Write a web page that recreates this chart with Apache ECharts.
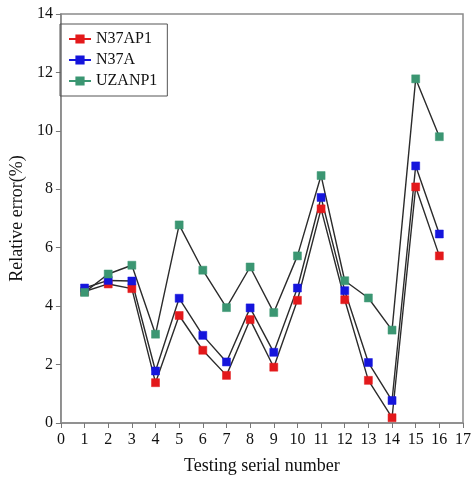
<!DOCTYPE html>
<html>
<head>
<meta charset="utf-8">
<script src="https://cdn.jsdelivr.net/npm/echarts@6/dist/echarts.min.js"></script>
<style>
  html, body { margin: 0; padding: 0; background: #fff; }
  #main { width: 474px; height: 480px; }
</style>
</head>
<body>
<div id="main"></div>
<script>
 var myChart = echarts.init(document.getElementById('main'));

 // data
 var serial = [1, 2, 3, 4, 5, 6, 7, 8, 9, 10, 11, 12, 13, 14, 15, 16];
 var n37ap1 = [4.50, 4.76, 4.60, 1.38, 3.68, 2.49, 1.63, 3.54, 1.91, 4.20, 7.33, 4.22, 1.46, 0.18, 8.08, 5.72];
 var n37a = [4.62, 4.88, 4.86, 1.78, 4.27, 3.00, 2.09, 3.94, 2.42, 4.62, 7.72, 4.53, 2.07, 0.77, 8.80, 6.47];
 var uzanp1 = [4.47, 5.10, 5.40, 3.04, 6.78, 5.23, 3.95, 5.34, 3.78, 5.72, 8.47, 4.87, 4.28, 3.18, 11.78, 9.80];
 var names = ['N37AP1', 'N37A', 'UZANP1'];
 var colors = ['#e3191b', '#1515dc', '#3b9672'];

 var font = 'Liberation Serif, Times New Roman, serif';

 function pairs(vals) {
   var out = [];
   for (var i = 0; i < serial.length; i++) {
     out.push([serial[i], vals[i]]);
   }
   return out;
 }

 function makeSeries(name, vals, c) {
   return {
     name: name,
     type: 'line',
     data: pairs(vals),
     symbol: 'rect',
     symbolSize: 8,
     lineStyle: { color: '#2b2b2b', width: 1.4 },
     itemStyle: { color: c, borderColor: c, borderWidth: 0.5 },
     emphasis: { disabled: true },
     z: 3
   };
 }

 var option = {
   animation: false,
   backgroundColor: '#fff',
   grid: {
     left: 51,
     right: 9,
     top: 14,
     bottom: 50,
     show: true,
     borderColor: '#8a8a8a',
     borderWidth: 1.5
   },
   legend: {
     orient: 'vertical',
     left: 60,
     top: 24,
     itemWidth: 22,
     itemHeight: 9,
     itemGap: 5,
     padding: [7, 10, 7, 8],
     borderColor: '#555',
     borderWidth: 1,
     textStyle: { fontFamily: font, fontSize: 16, color: '#111' },
     data: names.map(function(nm, i) {
       return {
         name: nm,
         itemStyle: { color: colors[i], borderColor: colors[i] },
         lineStyle: { color: colors[i], width: 2 }
       };
     })
   },
   xAxis: {
     type: 'value',
     min: 0,
     max: 17,
     interval: 1,
     name: 'Testing serial number',
     nameLocation: 'middle',
     nameGap: 34,
     nameTextStyle: { fontFamily: font, fontSize: 18, color: '#111' },
     axisLine: { lineStyle: { color: '#8a8a8a', width: 1.5 } },
     axisTick: { show: true, length: 5, lineStyle: { color: '#777' } },
     axisLabel: { fontFamily: font, fontSize: 16, color: '#111', margin: 9 },
     splitLine: { show: false }
   },
   yAxis: {
     type: 'value',
     min: 0,
     max: 14,
     interval: 2,
     name: 'Relative error(%)',
     nameLocation: 'middle',
     nameGap: 32,
     nameTextStyle: { fontFamily: font, fontSize: 18, color: '#111' },
     axisLine: { show: true, lineStyle: { color: '#8a8a8a', width: 1.5 } },
     axisTick: { show: true, length: 5, lineStyle: { color: '#777' } },
     axisLabel: { fontFamily: font, fontSize: 16, color: '#111', margin: 8 },
     splitLine: { show: false }
   },
   series: [
     makeSeries(names[0], n37ap1, colors[0]),
     makeSeries(names[1], n37a, colors[1]),
     makeSeries(names[2], uzanp1, colors[2])
   ]
 };

 myChart.setOption(option);
</script>
</body>
</html>
